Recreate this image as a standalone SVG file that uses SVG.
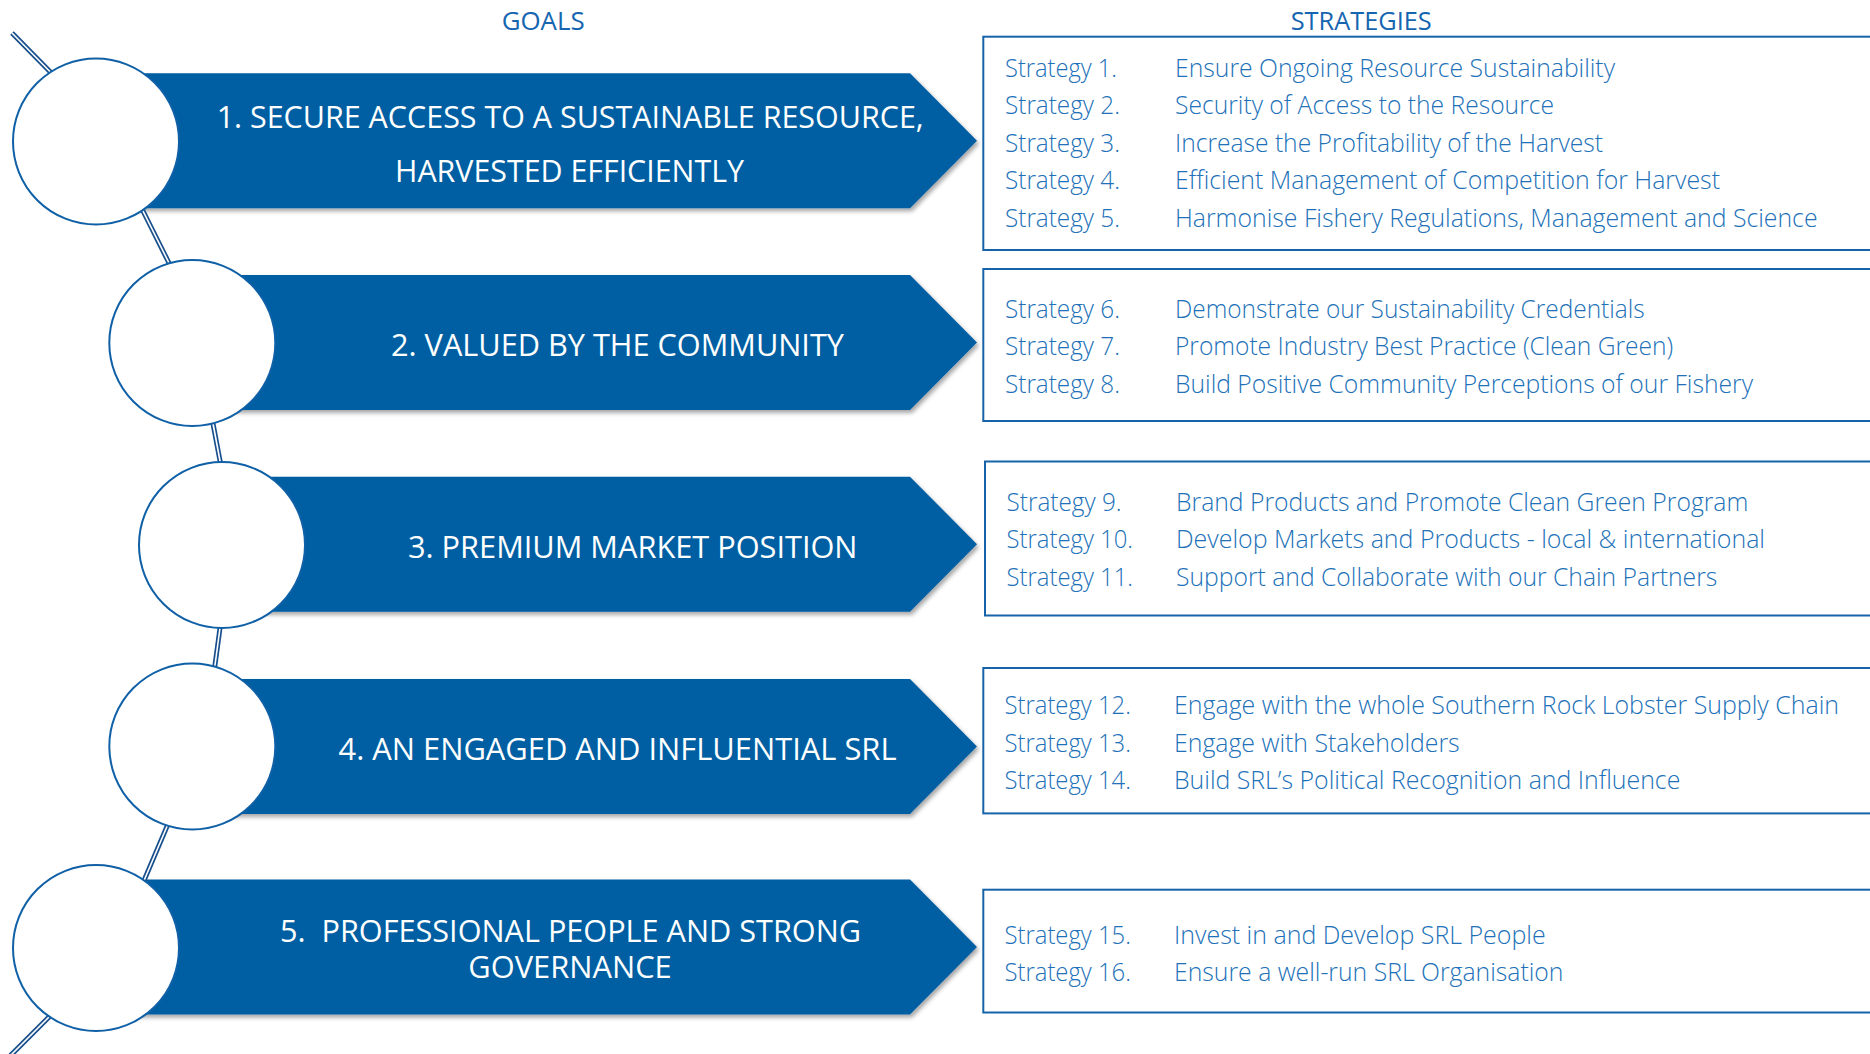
<svg xmlns="http://www.w3.org/2000/svg" width="1870" height="1054" viewBox="0 0 1870 1054">
<defs>
<filter id="sh" x="-5%" y="-10%" width="110%" height="130%">
<feDropShadow dx="2" dy="3" stdDeviation="2" flood-color="#000" flood-opacity="0.35"/>
</filter>
<style>
.banner{fill:#005ea3;filter:url(#sh)}
.gt{font-family:"Open Sans","Noto Sans","Liberation Sans",sans-serif;font-size:31.5px;fill:#fff}
.circ{fill:#fff;stroke:#0f60a6;stroke-width:2}
.box{fill:#fff;stroke:#1763aa;stroke-width:2}
.st{font-family:"Open Sans","Noto Sans","Liberation Sans",sans-serif;font-size:25px;fill:#2271b8;font-weight:300}
.hd{font-family:"Open Sans","Noto Sans","Liberation Sans",sans-serif;font-size:25px;fill:#1565b0}
.cO{stroke:#174f8c;stroke-width:5;fill:none;stroke-linecap:butt}
.cI{stroke:#fff;stroke-width:1.6;fill:none;stroke-linecap:butt}
</style>
</defs>
<rect width="1870" height="1054" fill="#fff"/>

<g id="headers">
<text class="hd" x="501.7" y="30" textLength="83" lengthAdjust="spacingAndGlyphs">GOALS</text>
<text class="hd" x="1290.7" y="30" textLength="141" lengthAdjust="spacingAndGlyphs">STRATEGIES</text>
</g>

<g id="goal1">
<polygon class="banner" points="96,73.3 910,73.3 977,140.8 910,208.3 96,208.3"/>
<text class="gt" x="216.7" y="127.7" textLength="707" lengthAdjust="spacingAndGlyphs">1. SECURE ACCESS TO A SUSTAINABLE RESOURCE,</text>
<text class="gt" x="395" y="181.7" textLength="349" lengthAdjust="spacingAndGlyphs">HARVESTED EFFICIENTLY</text>
</g>
<g id="goal2">
<polygon class="banner" points="192,275 910,275 977,342.5 910,410 192,410"/>
<text class="gt" x="391" y="356" textLength="453" lengthAdjust="spacingAndGlyphs">2. VALUED BY THE COMMUNITY</text>
</g>
<g id="goal3">
<polygon class="banner" points="222,476.7 910,476.7 977,544.2 910,611.7 222,611.7"/>
<text class="gt" x="408" y="557.5" textLength="449.5" lengthAdjust="spacingAndGlyphs">3. PREMIUM MARKET POSITION</text>
</g>
<g id="goal4">
<polygon class="banner" points="192,679 910,679 977,746.5 910,814 192,814"/>
<text class="gt" x="338.5" y="760" textLength="558" lengthAdjust="spacingAndGlyphs">4. AN ENGAGED AND INFLUENTIAL SRL</text>
</g>
<g id="goal5">
<polygon class="banner" points="96,879.5 910,879.5 977,947 910,1014.5 96,1014.5"/>
<text class="gt" x="280" y="941.7" textLength="581" lengthAdjust="spacingAndGlyphs" xml:space="preserve">5.  PROFESSIONAL PEOPLE AND STRONG</text>
<text class="gt" x="468.3" y="978.3" textLength="203.4" lengthAdjust="spacingAndGlyphs">GOVERNANCE</text>
</g>

<g id="connectors">
<path class="cO" d="M12,33 L70,92"/>
<path class="cI" d="M12,33 L70,92"/>
<path class="cO" d="M138,201 L173,271"/>
<path class="cI" d="M138,201 L173,271"/>
<path class="cO" d="M211,413 L222.5,474"/>
<path class="cI" d="M211,413 L222.5,474"/>
<path class="cO" d="M221.5,617 L213.5,676"/>
<path class="cI" d="M221.5,617 L213.5,676"/>
<path class="cO" d="M171,817 L140,890"/>
<path class="cI" d="M171,817 L140,890"/>
<path class="cO" d="M70,996 L8,1058"/>
<path class="cI" d="M70,996 L8,1058"/>
</g>

<g id="circle1"><circle class="circ" cx="96" cy="141.5" r="83"/></g>
<g id="circle2"><circle class="circ" cx="192.3" cy="343" r="83"/></g>
<g id="circle3"><circle class="circ" cx="222" cy="545" r="83"/></g>
<g id="circle4"><circle class="circ" cx="192.3" cy="746.5" r="83"/></g>
<g id="circle5"><circle class="circ" cx="96" cy="948" r="83"/></g>

<g id="strategies1">
<rect class="box" x="983.3" y="36.7" width="900" height="213.3"/>
<text class="st" x="1005" y="76.7" textLength="112" lengthAdjust="spacingAndGlyphs">Strategy 1.</text>
<text class="st" x="1175" y="76.7" textLength="440" lengthAdjust="spacingAndGlyphs">Ensure Ongoing Resource Sustainability</text>
<text class="st" x="1005" y="114.3" textLength="115" lengthAdjust="spacingAndGlyphs">Strategy 2.</text>
<text class="st" x="1175" y="114.3" textLength="379" lengthAdjust="spacingAndGlyphs">Security of Access to the Resource</text>
<text class="st" x="1005" y="151.7" textLength="115" lengthAdjust="spacingAndGlyphs">Strategy 3.</text>
<text class="st" x="1175" y="151.7" textLength="428" lengthAdjust="spacingAndGlyphs">Increase the Profitability of the Harvest</text>
<text class="st" x="1005" y="189.3" textLength="115" lengthAdjust="spacingAndGlyphs">Strategy 4.</text>
<text class="st" x="1175" y="189.3" textLength="545" lengthAdjust="spacingAndGlyphs">Efficient Management of Competition for Harvest</text>
<text class="st" x="1005" y="226.7" textLength="115" lengthAdjust="spacingAndGlyphs">Strategy 5.</text>
<text class="st" x="1175" y="226.7" textLength="642.5" lengthAdjust="spacingAndGlyphs">Harmonise Fishery Regulations, Management and Science</text>
</g>
<g id="strategies2">
<rect class="box" x="983.3" y="269" width="900" height="152"/>
<text class="st" x="1005" y="317.6" textLength="115" lengthAdjust="spacingAndGlyphs">Strategy 6.</text>
<text class="st" x="1175" y="317.6" textLength="469.6" lengthAdjust="spacingAndGlyphs">Demonstrate our Sustainability Credentials</text>
<text class="st" x="1005" y="355.1" textLength="115" lengthAdjust="spacingAndGlyphs">Strategy 7.</text>
<text class="st" x="1175" y="355.1" textLength="498.2" lengthAdjust="spacingAndGlyphs">Promote Industry Best Practice (Clean Green)</text>
<text class="st" x="1005" y="392.7" textLength="115" lengthAdjust="spacingAndGlyphs">Strategy 8.</text>
<text class="st" x="1175" y="392.7" textLength="578" lengthAdjust="spacingAndGlyphs">Build Positive Community Perceptions of our Fishery</text>
</g>
<g id="strategies3">
<rect class="box" x="985" y="461.5" width="900" height="154"/>
<text class="st" x="1006.6" y="510.8" textLength="115" lengthAdjust="spacingAndGlyphs">Strategy 9.</text>
<text class="st" x="1176" y="510.8" textLength="572.3" lengthAdjust="spacingAndGlyphs">Brand Products and Promote Clean Green Program</text>
<text class="st" x="1006.6" y="548" textLength="126.4" lengthAdjust="spacingAndGlyphs">Strategy 10.</text>
<text class="st" x="1176" y="548" textLength="589" lengthAdjust="spacingAndGlyphs">Develop Markets and Products - local &amp; international</text>
<text class="st" x="1006.6" y="585.9" textLength="126.4" lengthAdjust="spacingAndGlyphs">Strategy 11.</text>
<text class="st" x="1176" y="585.9" textLength="541.3" lengthAdjust="spacingAndGlyphs">Support and Collaborate with our Chain Partners</text>
</g>
<g id="strategies4">
<rect class="box" x="983.3" y="668" width="900" height="145.4"/>
<text class="st" x="1004.5" y="713.5" textLength="126.4" lengthAdjust="spacingAndGlyphs">Strategy 12.</text>
<text class="st" x="1174" y="713.5" textLength="665" lengthAdjust="spacingAndGlyphs">Engage with the whole Southern Rock Lobster Supply Chain</text>
<text class="st" x="1004.5" y="751.7" textLength="126.4" lengthAdjust="spacingAndGlyphs">Strategy 13.</text>
<text class="st" x="1174" y="751.7" textLength="285.7" lengthAdjust="spacingAndGlyphs">Engage with Stakeholders</text>
<text class="st" x="1004.5" y="788.7" textLength="126.4" lengthAdjust="spacingAndGlyphs">Strategy 14.</text>
<text class="st" x="1174" y="788.7" textLength="506.3" lengthAdjust="spacingAndGlyphs">Build SRL’s Political Recognition and Influence</text>
</g>
<g id="strategies5">
<rect class="box" x="983.3" y="889.7" width="900" height="122.8"/>
<text class="st" x="1004.5" y="943.7" textLength="126.4" lengthAdjust="spacingAndGlyphs">Strategy 15.</text>
<text class="st" x="1174" y="943.7" textLength="371.6" lengthAdjust="spacingAndGlyphs">Invest in and Develop SRL People</text>
<text class="st" x="1004.5" y="980.7" textLength="126.4" lengthAdjust="spacingAndGlyphs">Strategy 16.</text>
<text class="st" x="1174" y="980.7" textLength="389.5" lengthAdjust="spacingAndGlyphs">Ensure a well-run SRL Organisation</text>
</g>
</svg>
